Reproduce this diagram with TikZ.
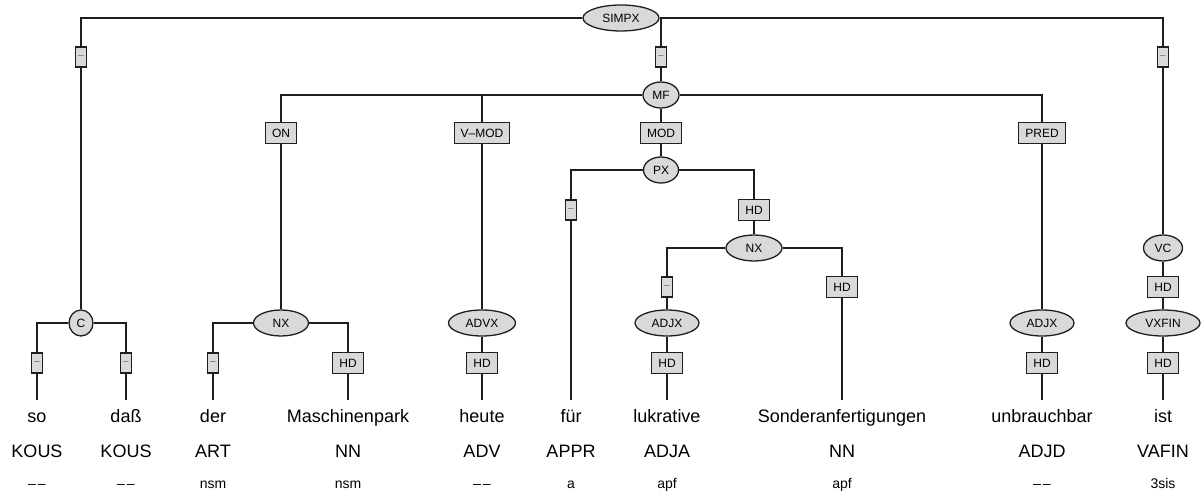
\documentclass[tikz,border=0pt]{standalone}
\usepackage{fontspec}
\setsansfont{Liberation Sans}
\usetikzlibrary{shapes.geometric}
\definecolor{catgray}{HTML}{D9D9D9}
\definecolor{ink}{HTML}{1E1E1E}
\newcommand{\nomorph}{--\kern2pt--}
\tikzset{
  cat/.style={draw=ink, ellipse, fill=catgray, line width=1.3pt, minimum height=26pt, inner sep=0pt, font=\sffamily\fontsize{12}{13}\selectfont},
  fn/.style={draw=ink, rectangle, fill=catgray, line width=1.3pt, minimum height=21pt, inner xsep=6.5pt, inner ysep=0pt, font=\sffamily\fontsize{12}{13}\selectfont},
  nofn/.style={draw=ink, rectangle, fill=catgray, line width=1.3pt, minimum width=11pt, minimum height=20pt, inner sep=0pt, text=gray!80!black, font=\sffamily\fontsize{10}{11}\selectfont},
  word/.style={anchor=base, text height=12.5pt, text depth=4pt, inner xsep=0pt, inner ysep=9pt, font=\sffamily\fontsize{18}{19}\selectfont},
  tag/.style={anchor=base, inner sep=0pt, font=\sffamily\fontsize{18}{19}\selectfont},
  morph/.style={anchor=base, inner sep=0pt, font=\sffamily\fontsize{14}{15}\selectfont},
  link/.style={draw=ink, line width=1.3pt},
}
\begin{document}
\begin{tikzpicture}[x=1pt,y=-1pt]
\useasboundingbox (0,0) rectangle (1203,494);
% categories
\node[cat, minimum width=76pt] (simpx) at (621,18) {SIMPX};
\node[cat, minimum width=36pt] (mf) at (661,95) {MF};
\node[cat, minimum width=35pt] (px) at (661,170) {PX};
\node[cat, minimum width=56pt] (nx2) at (754,248) {NX};
\node[cat, minimum width=39pt] (vc) at (1163,248) {VC};
\node[cat, minimum width=24pt] (c) at (81,323) {C};
\node[cat, minimum width=55pt] (nx1) at (281,323) {NX};
\node[cat, minimum width=67pt] (advx) at (482,323) {ADVX};
\node[cat, minimum width=64pt] (adjx1) at (667,323) {ADJX};
\node[cat, minimum width=64pt] (adjx2) at (1042,323) {ADJX};
\node[cat, minimum width=74pt] (vxfin) at (1163,323) {VXFIN};
% edge labels
\node[nofn] (d1) at (81,57) {--};
\node[nofn] (d2) at (661,57) {--};
\node[nofn] (d3) at (1163,57) {--};
\node[fn] (on) at (281,133) {ON};
\node[fn] (vmod) at (482,133) {V--MOD};
\node[fn] (mod) at (661,133) {MOD};
\node[fn] (pred) at (1042,133) {PRED};
\node[nofn] (d4) at (571,210) {--};
\node[fn] (hd1) at (754,210) {HD};
\node[nofn] (d5) at (667,287) {--};
\node[fn] (hd2) at (842,287) {HD};
\node[fn] (hd3) at (1163,287) {HD};
\node[nofn] (d6) at (37,363) {--};
\node[nofn] (d7) at (126,363) {--};
\node[nofn] (d8) at (213,363) {--};
\node[fn] (hd4) at (348,363) {HD};
\node[fn] (hd5) at (482,363) {HD};
\node[fn] (hd6) at (667,363) {HD};
\node[fn] (hd7) at (1042,363) {HD};
\node[fn] (hd8) at (1163,363) {HD};
% tokens
\foreach \i/\x/\w/\p/\m in {1/37/so/KOUS/\nomorph, 2/126/daß/KOUS/\nomorph, 3/213/der/ART/nsm, 4/348/Maschinenpark/NN/nsm, 5/482/heute/ADV/\nomorph, 6/571/für/APPR/a, 7/667/lukrative/ADJA/apf, 8/842/Sonderanfertigungen/NN/apf, 9/1042/unbrauchbar/ADJD/\nomorph, 10/1163/ist/VAFIN/3sis}{
  \node[word] (w\i) at (\x,422) {\w};
  \node[tag] (t\i) at (\x,457) {\p};
  \node[morph] (m\i) at (\x,488) {\m};
}
% branches
\draw[link] (simpx) -| (d1) (d1) -- (c);
\draw[link] (simpx) -| (d2) (d2) -- (mf);
\draw[link] (simpx) -| (d3) (d3) -- (vc);
\draw[link] (mf) -| (on) (on) -- (nx1);
\draw[link] (mf) -| (vmod) (vmod) -- (advx);
\draw[link] (mf) -- (mod) (mod) -- (px);
\draw[link] (mf) -| (pred) (pred) -- (adjx2);
\draw[link] (px) -| (d4) (d4) -- (w6);
\draw[link] (px) -| (hd1) (hd1) -- (nx2);
\draw[link] (nx2) -| (d5) (d5) -- (adjx1);
\draw[link] (nx2) -| (hd2) (hd2) -- (w8);
\draw[link] (vc) -- (hd3) (hd3) -- (vxfin) (vxfin) -- (hd8) (hd8) -- (w10);
\draw[link] (c) -| (d6) (d6) -- (w1);
\draw[link] (c) -| (d7) (d7) -- (w2);
\draw[link] (nx1) -| (d8) (d8) -- (w3);
\draw[link] (nx1) -| (hd4) (hd4) -- (w4);
\draw[link] (advx) -- (hd5) (hd5) -- (w5);
\draw[link] (adjx1) -- (hd6) (hd6) -- (w7);
\draw[link] (adjx2) -- (hd7) (hd7) -- (w9);
\end{tikzpicture}
\end{document}
